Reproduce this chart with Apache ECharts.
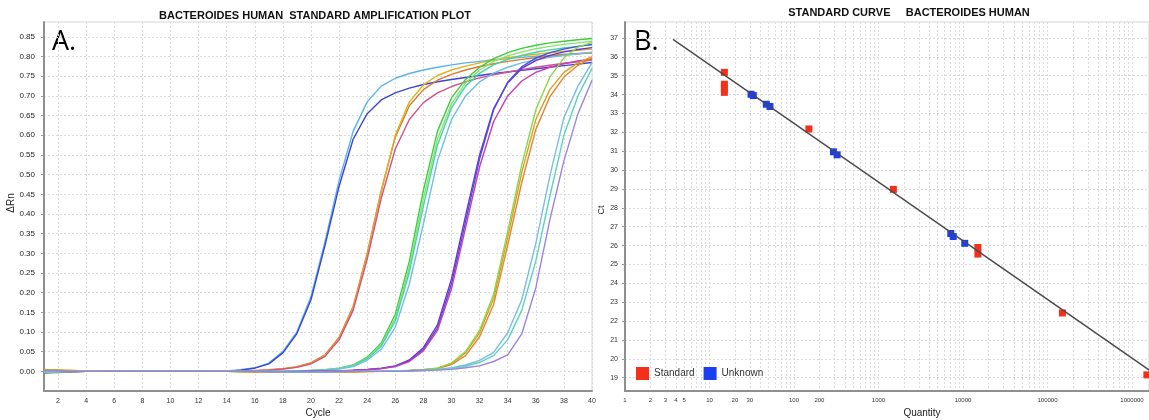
<!DOCTYPE html>
<html>
<head>
<meta charset="utf-8">
<title>Bacteroides human qPCR</title>
<script src="https://cdn.jsdelivr.net/npm/echarts@6/dist/echarts.min.js"></script>
<style>
  html, body { margin: 0; padding: 0; background: #fff; }
  #chart { width: 1149px; height: 420px; }
</style>
</head>
<body>
<div id="chart"></div>
<script>
// ---------- Amplification plot (panel A) ----------
const cycles = [1,2,3,4,5,6,7,8,9,10,11,12,13,14,15,16,17,18,19,20,21,22,23,24,25,26,27,28,29,30,31,32,33,34,35,36,37,38,39,40];

// ΔRn per cycle for each well
const wellLightBlueA = [-0.004,-0.002,-0.001,0,0.001,0.001,0,0,0,0,0,0,0,0.001,0.004,0.009,0.021,0.05,0.1,0.19,0.33,0.485,0.61,0.685,0.725,0.745,0.757,0.766,0.773,0.779,0.784,0.788,0.792,0.795,0.798,0.801,0.803,0.806,0.808,0.81];
const wellBlueA = [0.002,0.001,0,0,0,0,0,0,0,0,0,0,0,0,0.003,0.008,0.019,0.047,0.096,0.182,0.32,0.47,0.59,0.655,0.69,0.708,0.72,0.729,0.736,0.742,0.747,0.752,0.757,0.761,0.765,0.769,0.773,0.777,0.781,0.785];
const wellOrangeB = [0.003,0.002,0.001,0,0,0,0,0,0,0,0,0,0,0.001,0.001,0.002,0.004,0.007,0.012,0.022,0.042,0.086,0.165,0.3,0.46,0.595,0.675,0.716,0.74,0.755,0.766,0.775,0.782,0.788,0.793,0.797,0.801,0.804,0.807,0.81];
const wellGoldB = [0.005,0.003,0.002,0.001,0,0,0,0,0,0,0,0,0,0,0,0.001,0.003,0.006,0.011,0.02,0.04,0.082,0.16,0.295,0.455,0.6,0.685,0.728,0.752,0.766,0.776,0.784,0.791,0.797,0.802,0.806,0.81,0.813,0.816,0.819];
const wellPinkB = [-0.003,-0.002,-0.001,0,0,0,0,0,0,0,0,0,0,0,0,0.001,0.003,0.006,0.01,0.019,0.038,0.08,0.155,0.285,0.44,0.565,0.64,0.683,0.708,0.724,0.736,0.746,0.754,0.761,0.767,0.773,0.778,0.783,0.787,0.791];
const wellGreenC = [0.002,0.002,0.001,0.001,0,0,0,0,0,0,0,0,0,0,-0.001,-0.001,0,0,0.001,0.002,0.004,0.008,0.016,0.036,0.072,0.145,0.28,0.46,0.61,0.695,0.742,0.773,0.795,0.81,0.821,0.829,0.835,0.839,0.843,0.846];
const wellLightGreenC = [0.004,0.003,0.001,0,0,0,0,0,0,0,0,0,0,0,0,0,0,0.001,0.001,0.002,0.004,0.008,0.015,0.034,0.068,0.135,0.265,0.44,0.59,0.68,0.733,0.766,0.788,0.802,0.812,0.82,0.826,0.831,0.835,0.839];
const wellTealC = [-0.002,-0.001,0,0,0,0,0,0,0,0,0,0,0,0,0,0,0,0,0.001,0.002,0.003,0.007,0.014,0.032,0.064,0.128,0.252,0.42,0.575,0.67,0.725,0.758,0.779,0.793,0.803,0.811,0.817,0.822,0.826,0.83];
const wellSkyC = [0.001,0.001,0,0,0,0,0,0,0,0,0,0,0,0,0,0,0,0,0.001,0.001,0.003,0.006,0.012,0.028,0.056,0.112,0.222,0.375,0.535,0.64,0.7,0.736,0.758,0.773,0.784,0.792,0.798,0.803,0.807,0.811];
const wellPurpleD = [-0.004,-0.003,-0.001,0,0,0,0,0,0,0,0,0,0,0,0,0,-0.001,-0.001,-0.001,0,0,0.001,0.003,0.005,0.008,0.014,0.029,0.06,0.118,0.235,0.395,0.55,0.668,0.733,0.77,0.79,0.803,0.812,0.818,0.823];
const wellBlueD = [0.002,0.001,0,0,0,0,0,0,0,0,0,0,0,0,0,0,0,-0.001,0,0,0,0.001,0.002,0.004,0.007,0.013,0.027,0.056,0.11,0.222,0.38,0.54,0.665,0.735,0.774,0.796,0.81,0.819,0.826,0.831];
const wellMagentaD = [0.003,0.002,0.001,0,0,0,0,0,0,0,0,0,0,0,0,0,0,-0.001,-0.001,0,0,0.001,0.002,0.004,0.007,0.012,0.025,0.052,0.104,0.21,0.365,0.52,0.635,0.7,0.738,0.76,0.773,0.782,0.789,0.794];
const wellGoldE = [0.004,0.003,0.002,0.001,0.001,0,0,0,0,0,0,0,0,0,-0.001,-0.002,-0.002,-0.002,-0.002,-0.002,-0.002,-0.002,-0.002,-0.001,0,0.001,0.002,0.004,0.008,0.02,0.047,0.098,0.185,0.34,0.505,0.64,0.716,0.76,0.784,0.8];
const wellOrangeE = [0.002,0.001,0.001,0,0,0,0,0,0,0,0,0,0,0,0,-0.001,-0.001,-0.001,-0.001,-0.001,-0.001,-0.001,-0.001,0,0,0.001,0.002,0.004,0.007,0.017,0.04,0.088,0.17,0.32,0.48,0.615,0.698,0.748,0.778,0.796];
const wellLimeE = [-0.003,-0.002,-0.001,0,0,0,0,0,0,0,0,0,0,0,0,0,-0.001,-0.001,-0.001,-0.001,-0.001,-0.001,0,0,0,0.001,0.002,0.004,0.008,0.021,0.05,0.104,0.196,0.355,0.525,0.665,0.748,0.797,0.824,0.836];
const wellSkyF = [0.001,0,0,0,0,0,0,0,0,0,0,0,0,0,0,0,0,-0.001,-0.001,-0.001,-0.001,0,0,0,0,0.001,0.002,0.003,0.005,0.009,0.016,0.028,0.048,0.098,0.182,0.325,0.496,0.645,0.725,0.785];
const wellTealF = [-0.002,-0.001,0,0,0,0,0,0,0,0,0,0,0,0,0,0,0,0,-0.001,-0.001,-0.001,0,0,0,0,0.001,0.001,0.002,0.004,0.007,0.013,0.023,0.04,0.08,0.155,0.28,0.445,0.6,0.7,0.77];
const wellLavenderF = [0.002,0.001,0,0,0,0,0,0,0,0,0,0,0,0,0,0,-0.001,-0.001,-0.001,-0.001,-0.001,-0.001,0,0,0,0,0.001,0.002,0.003,0.005,0.009,0.014,0.025,0.042,0.095,0.212,0.385,0.535,0.655,0.74];

const cycleLabels = [2,4,6,8,10,12,14,16,18,20,22,24,26,28,30,32,34,36,38,40];
const deltaRnLabels = [0,0.05,0.1,0.15,0.2,0.25,0.3,0.35,0.4,0.45,0.5,0.55,0.6,0.65,0.7,0.75,0.8,0.85];

// ---------- Standard curve (panel B) ----------
const standardQuantity = [15,15,15,15,150,1500,15000,15000,150000,1500000];
const standardCt = [35.18,34.55,34.35,34.12,32.18,28.98,25.9,25.55,22.43,19.15];
const unknownQuantity = [31,33,47,52,293,324,7170,7660,10480];
const unknownCt = [34.02,33.95,33.49,33.37,30.97,30.81,26.64,26.48,26.12];
const fitQuantity = [3.7,1600000];
const fitCt = [36.93,19.4];

const quantityLabels = [1,2,3,4,5,10,20,30,100,200,1000,10000,100000,1000000];
const ctLabels = [19,20,21,22,23,24,25,26,27,28,29,30,31,32,33,34,35,36,37];

// Log-grid positions: 1..9 in every decade
const quantityGrid = [];
for (let d = 0; d <= 6; d++) {
  for (let m = 1; m <= 9; m++) quantityGrid.push(m * Math.pow(10, d));
}

const wells = [
  { data: wellLightBlueA, color: '#58b4e6' },
  { data: wellBlueA, color: '#3b44d6' },
  { data: wellOrangeB, color: '#e0782a' },
  { data: wellGoldB, color: '#d9b51c' },
  { data: wellPinkB, color: '#d4508c' },
  { data: wellGreenC, color: '#3ccc3c' },
  { data: wellLightGreenC, color: '#8ee070' },
  { data: wellTealC, color: '#3ed4a8' },
  { data: wellSkyC, color: '#72bde8' },
  { data: wellPurpleD, color: '#7232cc' },
  { data: wellBlueD, color: '#4a50e0' },
  { data: wellMagentaD, color: '#c83cb4' },
  { data: wellGoldE, color: '#d6a21e' },
  { data: wellOrangeE, color: '#e6852e' },
  { data: wellLimeE, color: '#86d84a' },
  { data: wellSkyF, color: '#7cbce6' },
  { data: wellTealF, color: '#58d4bc' },
  { data: wellLavenderF, color: '#9c84de' }
];

const zip = (xs, ys) => xs.map((x, i) => [x, ys[i]]);

const narrow = "'Liberation Sans Narrow', 'Liberation Sans', Arial, sans-serif";
const plain = "'Liberation Sans', Arial, sans-serif";
const gridLine = { show: true, lineStyle: { color: '#dcdcdc', width: 1, type: [2, 2] } };
const axisLineStyle = { show: true, onZero: false, lineStyle: { color: '#8f8f8f', width: 2 } };

const series = wells.map((w, i) => ({
  type: 'line',
  name: 'well' + (i + 1),
  xAxisIndex: 0,
  yAxisIndex: 0,
  data: zip(cycles, w.data),
  showSymbol: false,
  symbol: 'none',
  smooth: false,
  lineStyle: { color: w.color, width: 1.4 },
  itemStyle: { color: w.color },
  z: 2
}));

series.push({
  type: 'scatter',
  name: 'Standard',
  xAxisIndex: 1,
  yAxisIndex: 1,
  data: zip(standardQuantity, standardCt),
  symbol: 'rect',
  symbolSize: 7,
  itemStyle: { color: '#f3301c', opacity: 1 },
  z: 2
});
series.push({
  type: 'scatter',
  name: 'Unknown',
  xAxisIndex: 1,
  yAxisIndex: 1,
  data: zip(unknownQuantity, unknownCt),
  symbol: 'rect',
  symbolSize: 7,
  itemStyle: { color: '#1b3ef2', opacity: 1 },
  z: 2
});
series.push({
  type: 'line',
  name: 'fit',
  xAxisIndex: 1,
  yAxisIndex: 1,
  data: zip(fitQuantity, fitCt),
  symbol: 'none',
  lineStyle: { color: '#4a4a4a', width: 1.4 },
  z: 3
});

const chart = echarts.init(document.getElementById('chart'), null, { renderer: 'canvas' });
chart.setOption({
  animation: false,
  backgroundColor: '#ffffff',
  textStyle: { fontFamily: plain },
  grid: [
    { left: 44, top: 22, width: 548, height: 369, outerBoundsMode: 'none', containLabel: false,
      show: true, borderColor: '#d6d6d6', borderWidth: 1, backgroundColor: '#fff' },
    { left: 625, top: 22, width: 524, height: 369, outerBoundsMode: 'none', containLabel: false,
      show: true, borderColor: '#d6d6d6', borderWidth: 1, backgroundColor: '#fff' }
  ],
  legend: {
    data: ['Standard', 'Unknown'],
    left: 636,
    top: 367,
    padding: 0,
    itemWidth: 13,
    itemHeight: 13,
    itemGap: 9,
    icon: 'rect',
    itemStyle: { opacity: 1 },
    textStyle: { fontSize: 10, color: '#333', fontFamily: narrow }
  },
  xAxis: [
    {
      type: 'value', gridIndex: 0, min: 1, max: 40,
      axisLine: axisLineStyle,
      axisTick: { show: false, customValues: cycleLabels },
      axisLabel: { customValues: cycleLabels, fontSize: 7, color: '#333', margin: 7, fontFamily: narrow },
      splitLine: gridLine
    },
    {
      type: 'log', logBase: 10, gridIndex: 1, min: 1, max: 1589000,
      axisLine: axisLineStyle,
      axisTick: { show: false, customValues: quantityGrid },
      axisLabel: { customValues: quantityLabels, fontSize: 6, color: '#333', margin: 6, fontFamily: narrow,
                   formatter: v => String(Math.round(v)) },
      splitLine: gridLine
    }
  ],
  yAxis: [
    {
      type: 'value', gridIndex: 0, min: -0.05, max: 0.888,
      axisLine: axisLineStyle,
      axisTick: { show: true, length: 3, customValues: deltaRnLabels, lineStyle: { color: '#999' } },
      axisLabel: { customValues: deltaRnLabels, fontSize: 8, color: '#222', margin: 9, fontFamily: narrow,
                   formatter: v => v.toFixed(2) },
      splitLine: gridLine
    },
    {
      type: 'value', gridIndex: 1, min: 18.295, max: 37.848,
      axisLine: axisLineStyle,
      axisTick: { show: true, length: 3, customValues: ctLabels, lineStyle: { color: '#999' } },
      axisLabel: { customValues: ctLabels, fontSize: 7, color: '#333', margin: 7, fontFamily: narrow },
      splitLine: gridLine
    }
  ],
  graphic: [
    { type: 'text', x: 315, y: 16, style: { text: 'BACTEROIDES HUMAN  STANDARD AMPLIFICATION PLOT', font: "bold 11px " + plain, fill: '#111', align: 'center', verticalAlign: 'middle' } },
    { type: 'text', x: 909, y: 13, style: { text: 'STANDARD CURVE     BACTEROIDES HUMAN', font: "bold 11px " + plain, fill: '#111', align: 'center', verticalAlign: 'middle' } },
    { type: 'text', x: 52, y: 42, style: { text: 'A.', font: "27px 'Open Sans', 'Liberation Sans', sans-serif", fill: '#000', align: 'left', verticalAlign: 'middle' } },
    { type: 'text', x: 634, y: 42, style: { text: 'B.', font: "27px 'Open Sans', 'Liberation Sans', sans-serif", fill: '#000', align: 'left', verticalAlign: 'middle' } },
    // axis titles
    { type: 'text', x: 318, y: 413, style: { text: 'Cycle', font: "10px " + plain, fill: '#222', align: 'center', verticalAlign: 'middle' } },
    { type: 'text', x: 11, y: 203, rotation: Math.PI / 2, style: { text: 'ΔRn', font: "10px " + plain, fill: '#222', align: 'center', verticalAlign: 'middle' } },
    { type: 'text', x: 922, y: 413, style: { text: 'Quantity', font: "10px " + plain, fill: '#222', align: 'center', verticalAlign: 'middle' } },
    { type: 'text', x: 602, y: 210, rotation: Math.PI / 2, style: { text: 'Ct', font: "9px " + plain, fill: '#222', align: 'center', verticalAlign: 'middle' } }
  ],
  series: series
});
</script>
</body>
</html>
